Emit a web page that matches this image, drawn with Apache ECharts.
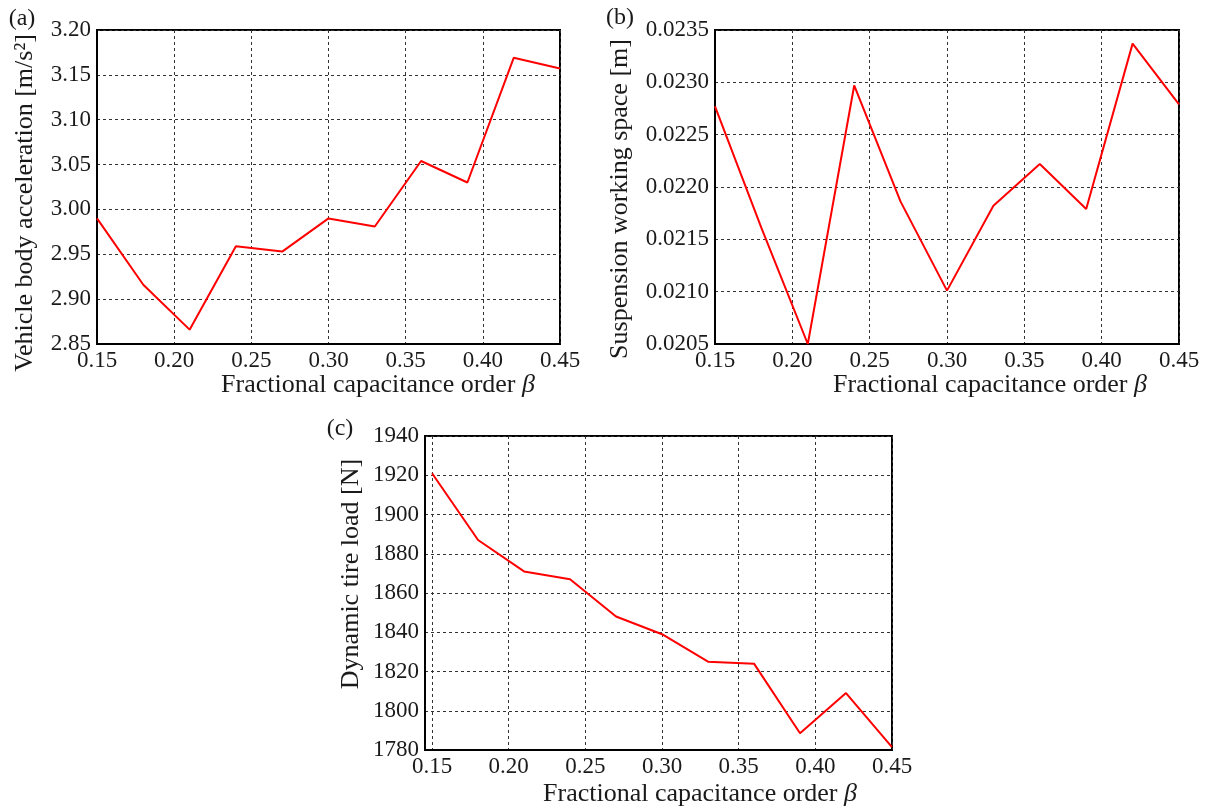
<!DOCTYPE html>
<html><head><meta charset="utf-8">
<script src="https://cdn.jsdelivr.net/npm/echarts@6/dist/echarts.min.js"></script>
<style>html,body{margin:0;padding:0;background:#fff}#c{width:1207px;height:812px}</style>
</head><body><div id="c"></div>
<script>
const betaValues = [0.15,0.18,0.21,0.24,0.27,0.30,0.33,0.36,0.39,0.42,0.45];
const accelValues = [2.990,2.916,2.866,2.959,2.953,2.990,2.981,3.054,3.030,3.169,3.157];
const swsValues = [0.02277,0.02161,0.02050,0.02297,0.02186,0.02101,0.02182,0.02222,0.02179,0.02337,0.02279];
const tireValues = [1921,1887,1871,1867,1848,1839,1825,1824,1788.5,1809,1781.5];
const xTickLabels = [0.15,0.20,0.25,0.30,0.35,0.40,0.45];
const panelLabels = ['(a)','(b)','(c)'];
const xTitle = 'Fractional capacitance order {i|β}';
const yTitles = ['Vehicle body acceleration [m/s²]','Suspension working space [m]','Dynamic tire load [N]'];

const FONT = '"Liberation Serif", "DejaVu Serif", serif';
const TXT = '#1a1a1a';
const TICK = 23;
const TITLE = 26;
const chart = echarts.init(document.getElementById('c'), null, {renderer:'canvas'});

const grids = [
  {left:97, top:30, width:463, height:314},
  {left:715, top:30, width:464, height:314},
  {left:425, top:436, width:467, height:314}
].map(g => Object.assign(g, {show:true, borderColor:'#000', borderWidth:2, backgroundColor:'transparent'}));

const split = {show:true, lineStyle:{color:'#333', width:1, type:[3,3]}};

function xAxis(i, min) {
  return {
    type:'value', gridIndex:i, min:min, max:0.45,
    axisLine:{show:true, onZero:false, lineStyle:{color:'#000', width:2}},
    axisTick:{show:false, customValues:xTickLabels},
    axisLabel:{customValues:xTickLabels, color:TXT, fontFamily:FONT, fontSize:TICK, margin:5,
      formatter:v => v.toFixed(2), showMinLabel:true, showMaxLabel:true},
    splitLine:split
  };
}
function yAxis(i, min, max, interval, dec) {
  return {
    type:'value', gridIndex:i, min:min, max:max, interval:interval,
    axisLine:{show:true, onZero:false, lineStyle:{color:'#000', width:2}},
    axisTick:{show:false},
    axisLabel:{color:TXT, fontFamily:FONT, fontSize:TICK, margin:6, formatter:v => v.toFixed(dec)},
    splitLine:split
  };
}

function pairs(ys){ return betaValues.map((x,k)=>[x, ys[k]]); }

function line(i, ys){
  return {type:'line', xAxisIndex:i, yAxisIndex:i, data:pairs(ys), showSymbol:false, symbol:'none',
    lineStyle:{color:'#ff0000', width:2}, itemStyle:{color:'#ff0000'}, animation:false, z:5};
}

function txt(x, y, text, size, rot) {
  return {type:'text', x:x, y:y, rotation:rot||0, z:10,
    style:{text:text, font: size+'px '+FONT, fill:TXT, align:'center', verticalAlign:'middle',
      rich:{i:{fontStyle:'italic', fontSize:size, fontFamily:FONT, fill:TXT}}}};
}

chart.setOption({
  animation:false,
  backgroundColor:'#fff',
  grid: grids,
  xAxis: [xAxis(0,0.15), xAxis(1,0.15), xAxis(2,0.1454)],
  yAxis: [yAxis(0,2.85,3.20,0.05,2), yAxis(1,0.0205,0.0235,0.0005,4), yAxis(2,1780,1940,20,0)],
  series: [line(0,accelValues), line(1,swsValues), line(2,tireValues)],
  graphic: [
    txt(22, 19, panelLabels[0], 24),
    txt(620, 18, panelLabels[1], 24),
    txt(340, 429, panelLabels[2], 24),
    txt(378, 385, xTitle, TITLE),
    txt(990, 385, xTitle, TITLE),
    txt(700, 794, xTitle, TITLE),
    txt(25, 203, yTitles[0], TITLE, Math.PI/2),
    txt(620, 199, yTitles[1], TITLE, Math.PI/2),
    txt(351, 574, yTitles[2], TITLE, Math.PI/2)
  ]
});
</script></body></html>
